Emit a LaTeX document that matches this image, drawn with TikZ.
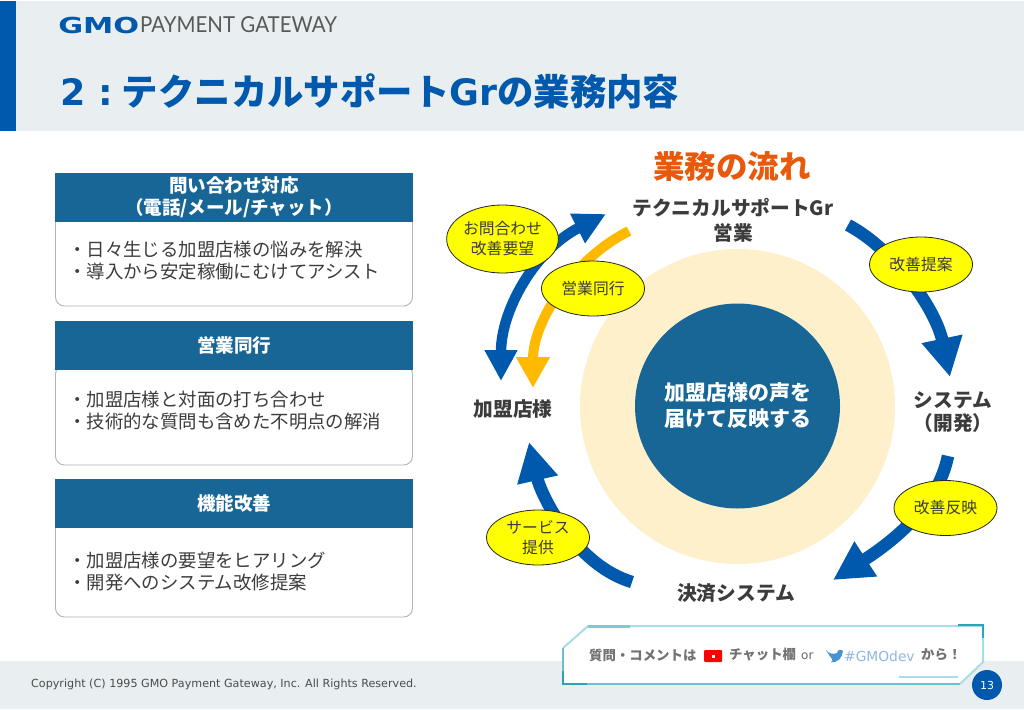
\documentclass[tikz,border=0pt]{standalone}
\usepackage{fontspec}
\setmainfont{Noto Sans CJK JP}
\newfontfamily\latinfont{DejaVu Sans}
\newfontfamily\logofont{Lato}
\usepackage{xcolor}
\usetikzlibrary{calc, arrows.meta, shapes.geometric, positioning}
\definecolor{bandgray}{HTML}{E9EEF0}
\definecolor{gmoblue}{HTML}{0059AC}
\definecolor{headblue}{HTML}{186696}
\definecolor{paleorange}{HTML}{FFF0CC}
\definecolor{labelgray}{HTML}{3C3C3C}
\definecolor{flowgold}{HTML}{FFBA00}
\definecolor{bubbleyellow}{HTML}{FFFF00}
\definecolor{flowtitleorange}{HTML}{E8590C}
\definecolor{frameteal}{HTML}{A9DCE3}
\definecolor{darkteal}{HTML}{2AA5B5}
\tikzset{
    headnode/.style = {draw=none, fill=headblue, rectangle, inner sep = 0em, node distance=0em, minimum width=358pt,
      minimum height=49pt, text=white, font=\fontsize{18.5}{22}\selectfont\bfseries},
    bodynode/.style = {draw=black!30, fill=white, rectangle, rounded corners=9pt, line width=0.9pt,
      inner sep = 0em, node distance=0em, minimum width=357pt},
    textnode/.style = {draw=none, fill=none, rectangle, inner sep = 0em, node distance=0em, text=labelgray,
      font=\fontsize{19.7}{25}\selectfont\bfseries},
    listnode/.style = {draw=none, fill=none, rectangle, inner sep = 0em, node distance=0em,
      every text node part/.style={align=left}, text=labelgray, font=\fontsize{18.4}{22}\selectfont},
    bubblenode/.style = {draw=black!85, fill=bubbleyellow, ellipse, inner sep = 0em, line width=0.8pt,
      minimum width=103pt, minimum height=55pt, text=labelgray, font=\fontsize{15.8}{20}\selectfont},
    circlenode/.style = {circle, draw=none, inner sep = 0em},
    bannertext/.style = {draw=none, fill=none, inner sep = 0em, anchor=west, text=#1,
      font=\fontsize{13.4}{16}\selectfont\bfseries},
    flow/.style = {draw=gmoblue, line width=12.5pt},
    bighead/.style = {-{Triangle[length=39pt, width=39pt]}},
    every text node part/.style={align=center}
}
\begin{document}
\begin{tikzpicture}[x=1pt, y=-1pt]
    \useasboundingbox (0,0) rectangle (1024,709);

    \fill [bandgray] (0,1) rectangle (1024,131);
    \fill [gmoblue] (0,1) rectangle (16,131);
    \fill [bandgray] (0,661) rectangle (1024,709);

    \node [textnode, name=gmo, anchor=west, text=gmoblue, xscale=1.38] at (58,25) {\fontsize{22}{22}\latinfont\bfseries GMO};
    \node [textnode, name=pg, anchor=west, text=black!65, xscale=0.93] at (140,25) {\fontsize{22}{22}\logofont\mdseries PAYMENT GATEWAY};
    \node [textnode, name=title, anchor=west, text=gmoblue, font=\fontsize{36.4}{40}\selectfont\bfseries] at (60,91) {{\latinfont 2 :\hspace{0.25em}}テクニカルサポート{\latinfont Gr}の業務内容};

    \node [bodynode, name=body1, minimum height=100pt] at (234,256) {};
    \node [headnode, name=head1] at (234,197.5) {問い合わせ対応\\（電話/メール/チャット）};
    \node [listnode, name=list1, below of=head1, anchor=west, xshift=-166pt, yshift=-63.5pt] {・日々生じる加盟店様の悩みを解決\\・導入から安定稼働にむけてアシスト};

    \node [bodynode, name=body2, below of=body1, yshift=-159pt, minimum height=100pt] {};
    \node [headnode, name=head2, below of=head1, yshift=-147.5pt] {営業同行};
    \node [listnode, name=list2, below of=head2, anchor=west, xshift=-166pt, yshift=-66pt] {・加盟店様と対面の打ち合わせ\\・技術的な質問も含めた不明点の解消};

    \node [bodynode, name=body3, below of=body2, yshift=-152pt, minimum height=100pt] {};
    \node [headnode, name=head3, below of=head2, yshift=-158.5pt] {機能改善};
    \node [listnode, name=list3, below of=head3, anchor=west, xshift=-166pt, yshift=-68.5pt] {・加盟店様の要望をヒアリング\\・開発へのシステム改修提案};

    \node [circlenode, name=outer, fill=paleorange, minimum size=315pt] at (737.5,406.5) {};
    \node [circlenode, name=inner, fill=headblue, minimum size=205pt, text=white,
      font=\fontsize{21}{26}\selectfont\bfseries] at (737.5,406) {加盟店様の声を\\届けて反映する};

    \node [textnode, name=flowtitle, text=flowtitleorange, font=\fontsize{31.5}{36}\selectfont\bfseries] at (732,167) {業務の流れ};
    \node [textnode, name=support] at (733,220.5) {テクニカルサポートGr\\営業};
    \node [textnode, name=system, font=\fontsize{19.7}{23}\selectfont\bfseries] at (953,412) {システム\\（開発）};
    \node [textnode, name=payment] at (736,593) {決済システム};
    \node [textnode, name=member] at (513,409) {加盟店様};

    \coordinate (sA) at (501,381);
    \coordinate (sB) at (606,214);
    \coordinate (yA) at (629,231);
    \coordinate (yB) at (533,388);
    \coordinate (rA) at (848,225);
    \coordinate (rB) at (950,377);
    \coordinate (dA) at (948,456);
    \coordinate (dB) at (833,580);
    \coordinate (lA) at (632,582);
    \coordinate (lB) at (529,442);

    \draw [flow, line width=10.5pt, {Triangle[length=31pt, width=31pt]}-{Triangle[length=32pt, width=31pt]}] (sA) .. controls (501,310) and (535,250) .. (sB);
    \draw [flow, draw=flowgold, line width=10pt, -{Triangle[length=31pt, width=32pt]}] (yA) .. controls (575,258) and (533,320) .. (yB);
    \draw [flow, bighead] (rA) .. controls (895,250) and (936,310) .. (rB);
    \draw [flow, bighead] (dA) .. controls (938,505) and (895,540) .. (dB);
    \draw [flow, bighead] (lA) .. controls (575,565) and (541,495) .. (lB);

    \node [bubblenode, name=ask, minimum width=111pt, minimum height=68pt] at (502.5,239) {お問合わせ\\改善要望};
    \node [bubblenode, name=visit] at (593,288.5) {営業同行};
    \node [bubblenode, name=propose] at (921,264.5) {改善提案};
    \node [bubblenode, name=reflect] at (945.5,508) {改善反映};
    \node [bubblenode, name=service] at (538,537.5) {サービス\\提供};

    \fill [white] (563,648) -- (588,626) -- (983,626) -- (983,662) -- (960,684) -- (563,684) -- cycle;
    \draw [frameteal, line width=2pt] (563,648) -- (588,626) -- (983,626) -- (983,662) -- (960,684);
    \draw [darkteal!70, line width=1.5pt] (960,684) -- (563,684) -- (563,648);
    \draw [frameteal, line width=1.5pt] (899,677) -- (958,677);
    \draw [darkteal!60, line width=3pt] (588,626) -- (630,626);
    \draw [darkteal, line width=2pt] (958,625) -- (983,625) -- (983,638);
    \draw [darkteal, line width=2.5pt] (563,671) -- (563,684) -- (587,684);

    \node [bannertext=black!55, name=askmsg] at (589,655) {質問・コメントは};
    \node [draw=none, fill=red, rounded corners=1pt, name=youtube, minimum width=18pt, minimum height=12pt, inner sep=0em] at (713,656) {};
    \node [draw=none, fill=white, name=play, minimum size=3pt, inner sep=0em] at (713,656) {};
    \node [bannertext=black!55, name=chat] at (729,655) {チャット欄};
    \node [bannertext=black!60, name=orword, font=\fontsize{12}{14}\latinfont] at (801,656) {or};
    \fill [cyan!60!blue!75] (826,650) .. controls (830,655) and (834,654) .. (837,653) .. controls (838,649) and (841,649) .. (843,651) .. controls (842,658) and (838,663) .. (831,662) .. controls (835,660) and (830,658) .. cycle;
    \node [bannertext=cyan!60!blue!45, name=hash, font=\fontsize{13.8}{16}\latinfont] at (844,656) {\#GMOdev};
    \node [bannertext=black!55, name=kara] at (921,655) {から！};

    \node [textnode, name=copyright, anchor=west, text=black!70, font=\fontsize{11.15}{13}\latinfont] at (31,684) {Copyright (C) 1995 GMO Payment Gateway, Inc. All Rights Reserved.};
    \node [circlenode, name=pageno, fill=gmoblue, minimum size=30pt, text=white, font=\fontsize{11}{13}\latinfont] at (987,685) {13};
\end{tikzpicture}
\end{document}
